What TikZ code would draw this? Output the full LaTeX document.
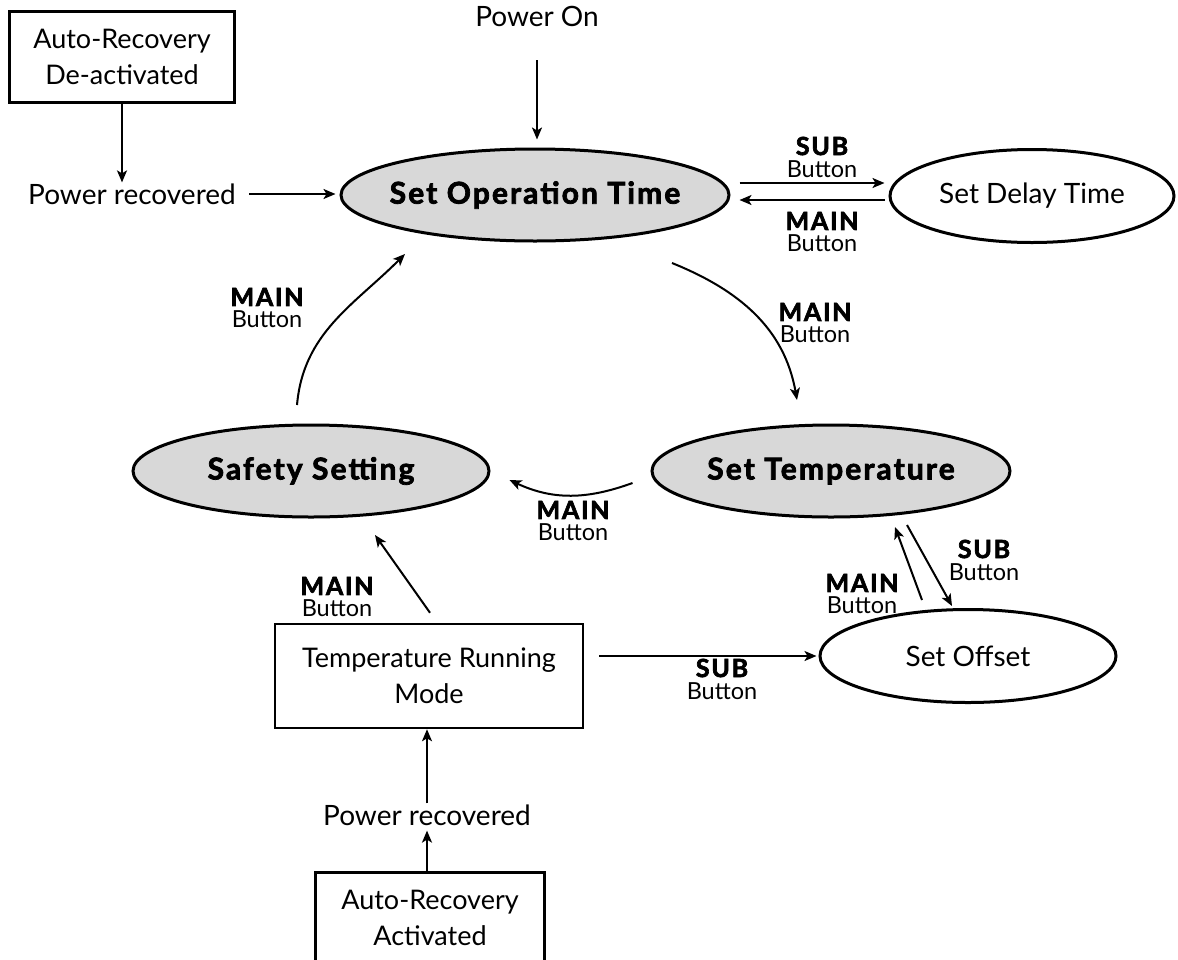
\documentclass[tikz,border=0pt]{standalone}
\usepackage{fontspec}
\setmainfont{Lato}
\newfontfamily\heavyfont{Lato}[UprightFont={* Bold}, LetterSpace=7, FakeBold=2.5]
\usetikzlibrary{shapes.geometric,arrows.meta,calc}
\definecolor{stategrey}{RGB}{216,216,216}
\tikzset{
  state/.style={ellipse, draw, line width=3pt, inner xsep=-30pt, inner ysep=0pt,
    font=\fontsize{28}{32}\selectfont},
  greystate/.style={state, fill=stategrey, font=\heavyfont\fontsize{30}{32}\selectfont},
  modebox/.style={rectangle, draw, line width=2.5pt, align=center,
    font=\fontsize{27}{36}\selectfont},
  plain/.style={inner sep=1pt, font=\fontsize{28}{32}\selectfont},
  lab/.style={align=center, inner sep=0pt, font=\fontsize{23.5}{22}\selectfont},
  arr/.style={-{Stealth[length=12pt,width=10pt,inset=3pt]}, line width=2pt},
}
\newcommand{\btnlabel}[1]{{\heavyfont\fontsize{25}{22}\selectfont #1}\\Button}
\begin{document}
\begin{tikzpicture}[x=1pt, y=-1pt]
  \useasboundingbox (0,0) rectangle (1178,959);
  \clip (0,0) rectangle (1178,959);
  % states
  \node[greystate, minimum width=388, minimum height=92] (op) at (535,195) {Set Operation Time};
  \node[state, minimum width=284, minimum height=93] (delay) at (1032,196) {Set Delay Time};
  \node[greystate, minimum width=358, minimum height=92] (temp) at (831,471) {Set Temperature};
  \node[greystate, minimum width=356, minimum height=92] (safety) at (311,471) {Safety Setting};
  \node[state, minimum width=296, minimum height=93] (offset) at (968,656) {Set Offset};
  % boxes and plain texts
  \node[modebox, minimum width=225, minimum height=91] (deact) at (122,57) {Auto-Recovery\\De-activated};
  \node[modebox, minimum width=308, minimum height=104] (trm) at (429,676) {Temperature Running\\Mode};
  \node[modebox, minimum width=229, minimum height=91] (act) at (430,918) {Auto-Recovery\\Activated};
  \node[plain] (poweron) at (537,16) {Power On};
  \node[plain] (pr1) at (132,194) {Power recovered};
  \node[plain] (pr2) at (427,815) {Power recovered};
  % connectors
  \draw[arr, shorten <=33pt, shorten >=8pt] (poweron.south) -- (poweron.south |- op.north);
  \draw[arr] (deact.south) -- (deact.south |- pr1.north);
  \draw[arr, shorten <=12pt, shorten >=4pt] (pr1.east) -- (pr1.east -| op.west);
  \draw[arr, shorten <=9pt, shorten >=4pt] ([yshift=12pt]op.east) -- ([yshift=12pt]op.east -| delay.west);
  \draw[arr, shorten <=4pt, shorten >=9pt] ([yshift=-4pt]delay.west) -- ([yshift=-4pt]delay.west -| op.east);
  \draw[arr] ($(op)+(137,68)$) to[out=-22, in=100] ($(temp)+(-34,-71)$);
  \draw[arr] ($(temp.west)+(-18,12)$) to[out=-160, in=-25] ($(safety.east)+(19,9)$);
  \draw[arr] ($(safety)+(-14,-66)$) to[out=85, in=-135] ($(op)+(-130,59)$);
  \draw[arr] ($(trm.north)+(1,-10)$) -- ($(safety)+(64,64)$);
  \draw[arr, shorten <=15pt, shorten >=2pt] ([yshift=20pt]trm.east) -- ([yshift=20pt]trm.east -| offset.west);
  \draw[arr] ($(offset)+(-46,-56)$) -- ($(temp)+(64,56)$);
  \draw[arr] ($(temp)+(76,54)$) -- ($(offset)+(-16,-50)$);
  \draw[arr] (pr2.north) -- (pr2.north |- trm.south);
  \draw[arr, shorten >=4pt] (pr2.south |- act.north) -- (pr2.south);
  % button labels
  \node[lab] (l1) at (822,157) {\btnlabel{SUB}};
  \node[lab] (l2) at (822,232) {\btnlabel{MAIN}};
  \node[lab] (l3) at (815,323) {\btnlabel{MAIN}};
  \node[lab] (l4) at (573,521) {\btnlabel{MAIN}};
  \node[lab] (l5) at (267,308) {\btnlabel{MAIN}};
  \node[lab] (l6) at (337,597) {\btnlabel{MAIN}};
  \node[lab] (l7) at (722,679) {\btnlabel{SUB}};
  \node[lab] (l8) at (862,594) {\btnlabel{MAIN}};
  \node[lab] (l9) at (984,560) {\btnlabel{SUB}};
\end{tikzpicture}
\end{document}
